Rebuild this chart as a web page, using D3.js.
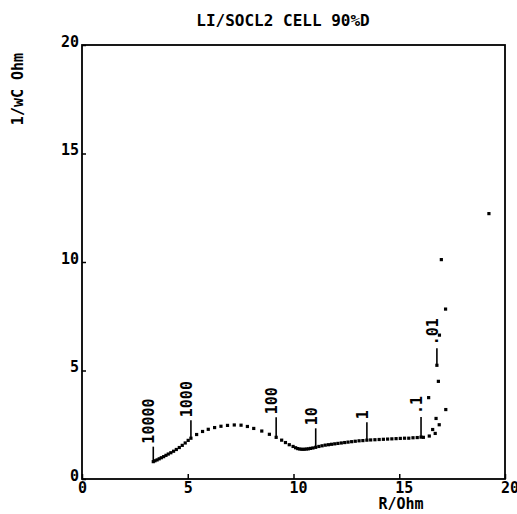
<!DOCTYPE html>
<html>
<head>
<meta charset="utf-8">
<script src="https://cdn.jsdelivr.net/npm/d3@7"></script>
<style>
	body { margin: 0; background: #fff; }
	text { font-family: "DejaVu Sans Mono", monospace; font-weight: bold; fill: #000; }
</style>
</head>
<body>
<svg id="chart" width="517" height="514"></svg>
<script>
const title = "LI/SOCL2 CELL 90%D";
const xLabel = "R/Ohm";
const yLabel = "1/wC Ohm";
const xTicks = [0, 5, 10, 15, 20];
const yTicks = [0, 5, 10, 15, 20];

// impedance points, high to low frequency
const rOhm = [
	3.37, 3.45, 3.55, 3.65, 3.75, 3.86, 3.97, 4.08, 4.20, 4.33, 4.46, 4.60, 4.74, 4.88, 5.02, 5.15,
	5.42, 5.70, 5.97, 6.27, 6.57, 6.88, 7.20, 7.52, 7.82, 8.12, 8.50, 8.86, 9.18,
	9.44, 9.62, 9.80, 9.98, 10.10, 10.20, 10.30, 10.40, 10.50, 10.60, 10.70, 10.80, 10.92, 11.05,
	11.20, 11.35, 11.50, 11.65, 11.80, 11.95, 12.10, 12.26, 12.42, 12.58, 12.75, 12.92, 13.10, 13.28, 13.47,
	13.65, 13.85, 14.05, 14.25, 14.45, 14.65, 14.85, 15.05, 15.25, 15.45, 15.65, 15.85, 16.03,
	16.14, 16.42, 16.70, 16.58, 16.89, 16.74, 17.20, 16.39, 16.85, 16.78, 16.90, 17.19, 16.99, 19.24
];
const invWC = [
	0.80, 0.84, 0.88, 0.93, 0.98, 1.03, 1.09, 1.15, 1.21, 1.28, 1.36, 1.45, 1.55, 1.66, 1.78, 1.88,
	2.05, 2.19, 2.29, 2.37, 2.43, 2.47, 2.49, 2.48, 2.42, 2.33, 2.21, 2.06, 1.92,
	1.79, 1.68, 1.58, 1.50, 1.44, 1.40, 1.38, 1.37, 1.37, 1.38, 1.39, 1.41, 1.43, 1.46,
	1.50, 1.53, 1.56, 1.58, 1.60, 1.62, 1.64, 1.66, 1.68, 1.70, 1.72, 1.74, 1.76, 1.77, 1.79,
	1.80, 1.81, 1.82, 1.83, 1.84, 1.85, 1.86, 1.87, 1.88, 1.88, 1.90, 1.91, 1.93,
	1.92, 1.98, 2.10, 2.28, 2.50, 2.79, 3.20, 3.75, 4.50, 5.24, 6.63, 7.83, 10.11, 12.23
];

// frequency annotations (Hz)
const markerLabels = ["10000", "1000", "100", "10", "1", ".1", ".01"];
const markerR = [3.37, 5.15, 9.18, 11.05, 13.47, 16.03, 16.78];
const markerX = [0.80, 1.88, 1.92, 1.46, 1.79, 1.93, 5.24];
const stemLen = [15, 18, 20, 19, 18, 20, 17];

class NyquistPlot {
	constructor(svgEl) {
		this.svg = d3.select(svgEl);
		this.x = d3.scaleLinear().domain([0, 20]).range([82, 505]);
		this.y = d3.scaleLinear().domain([0, 20]).range([479, 45]);
		this.drawFrame();
		this.drawPoints();
		this.drawMarkers();
	}

	drawFrame() {
		const x = this.x, y = this.y;
		this.svg.append("rect")
			.attr("x", x(0)).attr("y", y(20))
			.attr("width", x(20) - x(0)).attr("height", y(0) - y(20))
			.attr("fill", "none").attr("stroke", "#000").attr("stroke-width", 1.8);

		const xAxis = d3.axisBottom(x).tickValues(xTicks).tickSize(-5).tickFormat(d3.format("d"));
		const gx = this.svg.append("g").attr("transform", `translate(0,${y(0)})`).call(xAxis);
		gx.select(".domain").remove();
		gx.selectAll(".tick line").attr("stroke", "#000").attr("stroke-width", 1.5);
		gx.selectAll(".tick text")
			.attr("font-size", 15).attr("y", 3).attr("text-anchor", "start")
			.attr("x", -4.5).attr("fill", "#000");

		const yAxis = d3.axisLeft(y).tickValues(yTicks).tickSize(-4).tickFormat(d3.format("d"));
		const gy = this.svg.append("g").attr("transform", `translate(${x(0)},0)`).call(yAxis);
		gy.select(".domain").remove();
		gy.selectAll(".tick line").attr("stroke", "#000").attr("stroke-width", 1.5);
		gy.selectAll(".tick text")
			.attr("font-size", 15).attr("x", -3).attr("dy", 1).attr("fill", "#000");

		this.svg.append("text")
			.attr("x", 283).attr("y", 26)
			.attr("text-anchor", "middle").attr("font-size", 16)
			.text(title);
		this.svg.append("text")
			.attr("x", 401).attr("y", 509)
			.attr("text-anchor", "middle").attr("font-size", 15)
			.text(xLabel);
		this.svg.append("text")
			.attr("transform", "translate(23,89) rotate(-90)")
			.attr("text-anchor", "middle").attr("font-size", 15)
			.text(yLabel);
	}

	drawPoints() {
		const pts = rOhm.map((r, i) => ({ r: r, c: invWC[i] }));
		this.svg.append("g").selectAll("rect")
			.data(pts).enter().append("rect")
			.attr("x", d => this.x(d.r) - 1.6)
			.attr("y", d => this.y(d.c) - 1.6)
			.attr("width", 3.2).attr("height", 3.2)
			.attr("fill", "#000");
	}

	drawMarkers() {
		const marks = markerLabels.map((t, i) => ({ t: t, r: markerR[i], c: markerX[i], len: stemLen[i] }));
		const g = this.svg.append("g").selectAll("g").data(marks).enter().append("g")
			.attr("transform", d => `translate(${this.x(d.r)},${this.y(d.c)})`);
		g.append("line")
			.attr("x1", 0).attr("y1", 0).attr("x2", 0).attr("y2", d => -d.len)
			.attr("stroke", "#000").attr("stroke-width", 1.6);
		g.append("text")
			.attr("transform", d => `translate(1,${-d.len - 3}) rotate(-90)`)
			.attr("font-size", 15)
			.text(d => d.t);
	}
}

new NyquistPlot(document.getElementById("chart"));
</script>
</body>
</html>
